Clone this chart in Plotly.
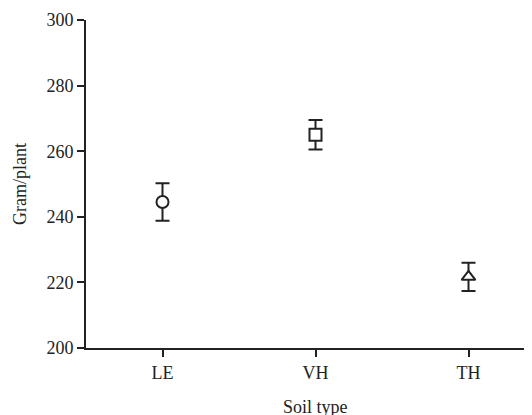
import plotly.graph_objects as go

categories = ["LE", "VH", "TH"]
means = [244.5, 265.0, 221.7]
errors = [5.7, 4.5, 4.3]
symbols = ["circle", "square", "triangle-up"]
y_ticks = [200, 220, 240, 260, 280, 300]

FONT = "Liberation Serif"
INK = "#222222"

fig = go.Figure()
for i, cat in enumerate(categories):
    fig.add_trace(go.Scatter(
        x=[i], y=[means[i]], mode="markers",
        marker=dict(symbol=symbols[i], size=12, color="white",
                    line=dict(color=INK, width=2)),
        error_y=dict(type="data", array=[errors[i]], visible=True,
                     color=INK, thickness=2, width=7),
        showlegend=False, hoverinfo="skip",
    ))

# page has 8px body margin: figure origin sits at (8, 8) in the window
fig.update_layout(
    width=524, height=407,
    margin=dict(l=78, r=0, t=12, b=67, autoexpand=False),
    paper_bgcolor="white", plot_bgcolor="white",
    font=dict(family=FONT, size=18, color=INK),
    xaxis=dict(
        range=[-0.5, 2.415], tickmode="array", tickvals=list(range(len(categories))),
        ticktext=categories, showgrid=False, zeroline=False,
        showline=True, linecolor=INK, linewidth=2,
        ticks="outside", ticklen=7, tickwidth=2, tickcolor=INK,
    ),
    yaxis=dict(
        range=[200, 300], tickmode="array", tickvals=y_ticks,
        showgrid=False, zeroline=False,
        showline=True, linecolor=INK, linewidth=2,
        ticks="outside", ticklen=7, tickwidth=2, tickcolor=INK,
    ),
    annotations=[
        dict(text="Soil type", xref="paper", yref="paper",
             x=(315 - 86) / 446, y=0, yshift=-59, showarrow=False,
             xanchor="center", yanchor="middle"),
        dict(text="Gram/plant", xref="paper", yref="paper", textangle=-90,
             x=0, y=0.5, xshift=-66, showarrow=False,
             xanchor="center", yanchor="middle"),
    ],
)

fig.write_html("out.html")
